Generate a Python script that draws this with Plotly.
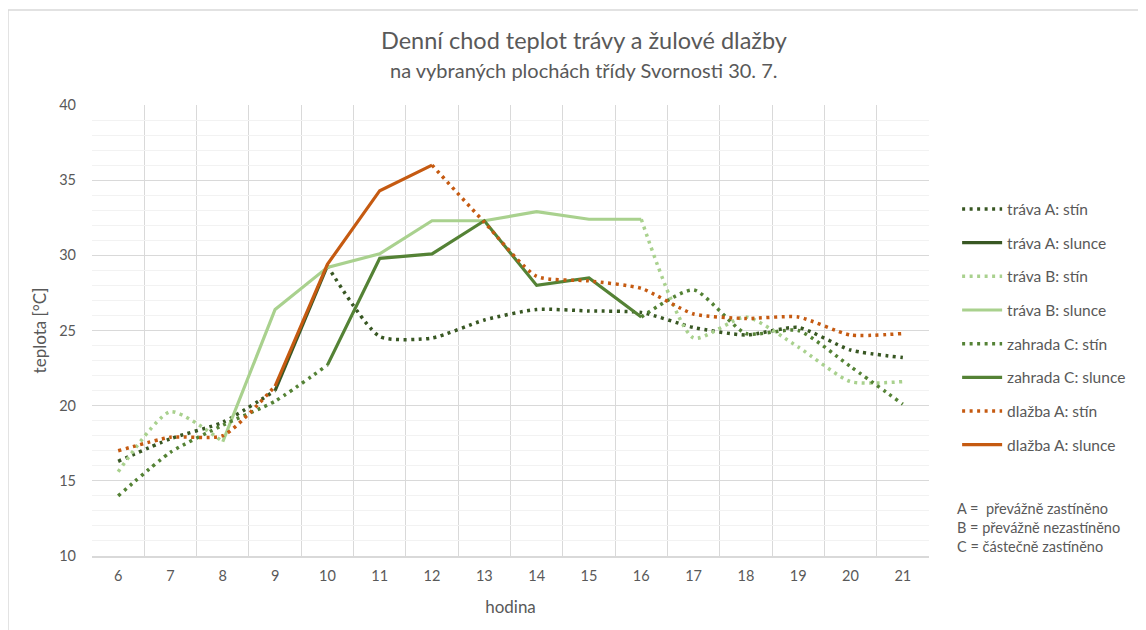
import plotly.graph_objects as go

hours = list(range(6, 22))
tick_labels = [str(h) for h in hours]

# tráva A
trava_A_stin = [16.3, 17.8, 18.9, 21.0, 29.3, 24.6, 24.5, 25.7, 26.4, 26.3, 26.2, 25.2, 24.7, 25.2, 23.7, 23.2]
trava_A_slunce = [None, None, None, 21.0, 29.3, None, None, None, None, None, None, None, None, None, None, None]
# tráva B
trava_B_stin = [15.6, 19.6, 17.6, None, None, None, None, None, None, None, 32.4, 24.5, 25.9, 23.9, 21.6, 21.6]
trava_B_slunce = [None, None, 17.6, 26.4, 29.2, 30.1, 32.3, 32.3, 32.9, 32.4, 32.4, None, None, None, None, None]
# zahrada C
zahrada_C_stin = [14.0, 16.9, 18.7, 20.3, 22.7, None, None, None, None, None, 25.9, 27.7, 24.8, 25.0, 22.6, 20.1]
zahrada_C_slunce = [None, None, None, None, 22.7, 29.8, 30.1, 32.3, 28.0, 28.5, 25.9, None, None, None, None, None]
# dlažba A
dlazba_A_stin = [17.0, 17.9, 18.0, 21.3, None, None, 36.0, 32.2, 28.6, 28.3, 27.8, 26.1, 25.8, 25.9, 24.7, 24.8]
dlazba_A_slunce = [None, None, None, 21.3, 29.4, 34.3, 36.0, None, None, None, None, None, None, None, None, None]

groups = [
    ("tráva A", trava_A_stin, trava_A_slunce, "#385723"),
    ("tráva B", trava_B_stin, trava_B_slunce, "#A9D18E"),
    ("zahrada C", zahrada_C_stin, zahrada_C_slunce, "#548235"),
    ("dlažba A", dlazba_A_stin, dlazba_A_slunce, "#C55A11"),
]


def shade_xy(stin, slunce):
    """Break the shade line where the sun series covers the interval."""
    xs, ys = [], []
    for i, h in enumerate(hours):
        xs.append(h)
        ys.append(stin[i])
        if i + 1 < len(hours) and slunce[i] is not None and slunce[i + 1] is not None:
            xs.append(h)
            ys.append(None)
    return xs, ys


FONT = "Lato"
GREY = "#595959"

fig = go.Figure()
k = 0
for name, stin, slunce, color in groups:
    xs, ys = shade_xy(stin, slunce)
    fig.add_trace(go.Scatter(
        x=xs, y=ys, name=f"{name}: stín", mode="lines",
        line=dict(color=color, width=3.5, dash="3px,4.5px", shape="spline", smoothing=0.6),
        legendgroup=f"g{k}", connectgaps=False,
    ))
    k += 1
    fig.add_trace(go.Scatter(
        x=hours, y=slunce, name=f"{name}: slunce", mode="lines",
        line=dict(color=color, width=3.2, shape="linear"),
        legendgroup=f"g{k}", connectgaps=False,
    ))
    k += 1

fig.update_layout(
    width=1146, height=630,
    margin=dict(l=84, r=225, t=97, b=82),
    paper_bgcolor="white", plot_bgcolor="white",
    font=dict(family=FONT, color=GREY, size=14),
    showlegend=True,
    legend=dict(x=1.0336, y=0.806, xanchor="left", yanchor="top",
                font=dict(size=15.5, color=GREY, family=FONT),
                tracegroupgap=10.5, itemwidth=40),
    xaxis=dict(
        range=[5.5, 21.5], tickmode="array", tickvals=hours, ticktext=tick_labels,
        showgrid=False, zeroline=False, showline=True, linecolor="#D9D9D9", linewidth=1.5,
        ticks="", tickfont=dict(size=14.5, color=GREY), ticklabelstandoff=6,
        minor=dict(tickvals=[h + 0.5 for h in range(5, 22)], showgrid=True,
                   gridcolor="#D9D9D9", gridwidth=1.3, ticks=""),
        title=dict(text="hodina", font=dict(size=17, color=GREY), standoff=18),
    ),
    yaxis=dict(
        range=[10, 40], dtick=5, tick0=10, showgrid=True, gridcolor="#D9D9D9", gridwidth=1.3,
        zeroline=False, showline=False, ticks="", ticklabelstandoff=15,
        tickfont=dict(size=14.5, color=GREY),
        minor=dict(dtick=1, showgrid=True, gridcolor="#F2F2F2", gridwidth=1),
        title=dict(text="teplota [°C]", font=dict(size=17, color=GREY), standoff=8),
    ),
    annotations=[
        dict(text="Denní chod teplot trávy a žulové dlažby", xref="paper", yref="paper",
             x=0.588, y=1.144, xanchor="center", yanchor="middle", showarrow=False,
             font=dict(size=23.5, color=GREY, family=FONT)),
        dict(text="na vybraných plochách třídy Svornosti 30. 7.", xref="paper", yref="paper",
             x=0.588, y=1.0775, xanchor="center", yanchor="middle", showarrow=False,
             font=dict(size=20, color=GREY, family=FONT)),
        dict(text="A =  převážně zastíněno<br>B = převážně nezastíněno<br>C = částečně zastíněno",
             xref="paper", yref="paper", x=1.0316, y=0.063, xanchor="left", yanchor="middle",
             align="left", showarrow=False,
             font=dict(size=14.5, color=GREY, family=FONT)),
    ],
    shapes=[
        dict(type="rect", xref="paper", yref="paper", x0=-0.1004, x1=1.5, y0=-0.5, y1=1.2106,
             line=dict(color="#D9D9D9", width=1.5), fillcolor="rgba(0,0,0,0)", layer="below"),
    ],
)

fig.write_html("out.html")
